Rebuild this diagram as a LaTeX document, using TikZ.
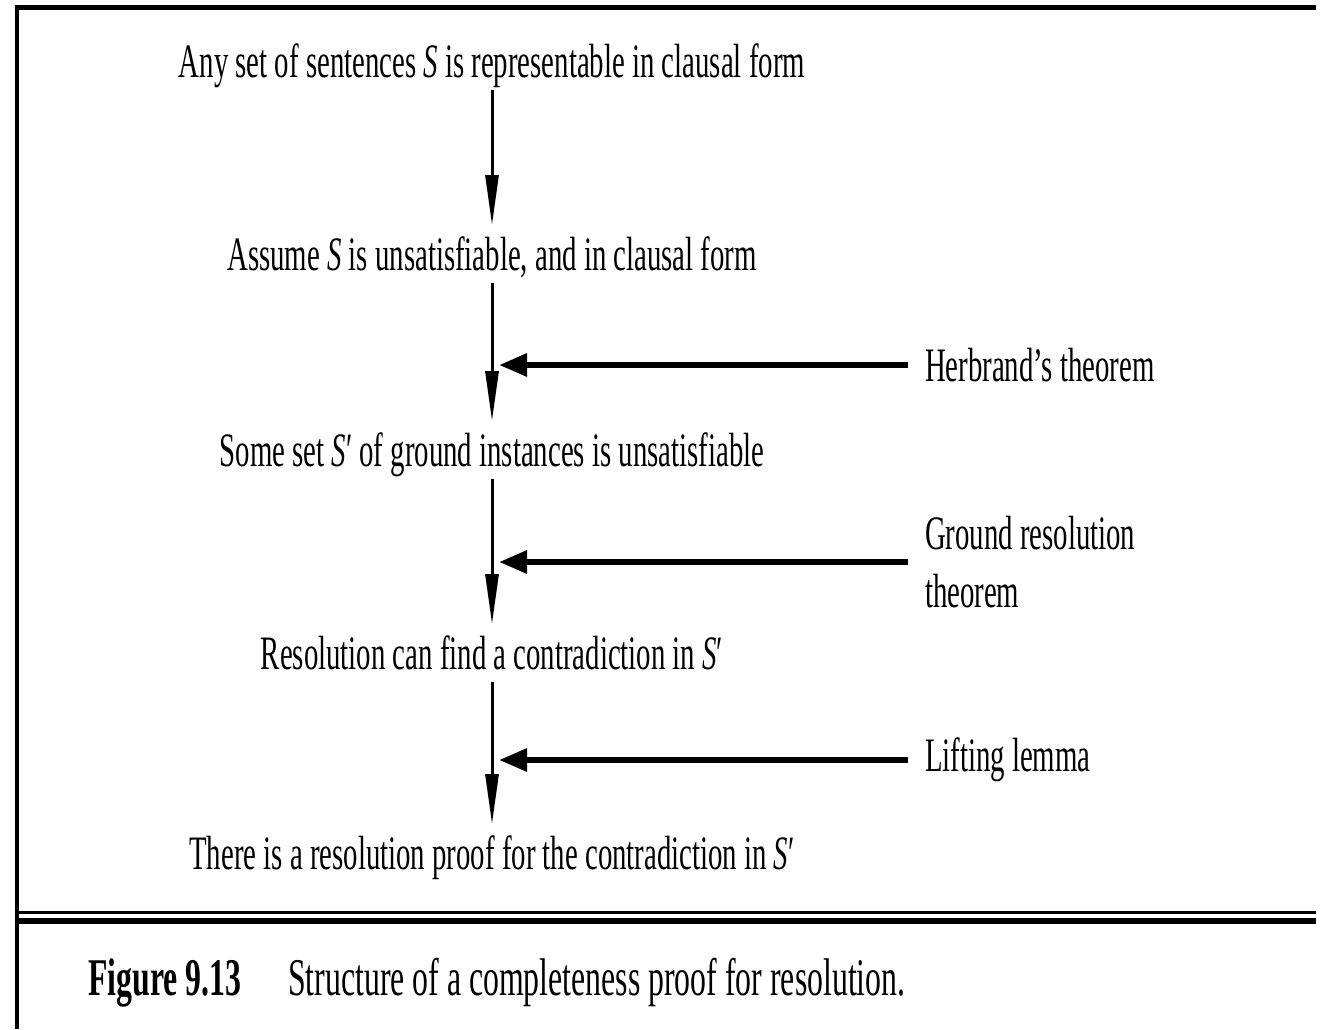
\documentclass[tikz,border=0pt]{standalone}
\usepackage{fontspec}
\setmainfont{Liberation Serif}[FakeStretch=0.6]
\usetikzlibrary{arrows.meta}

\begin{document}
\begin{tikzpicture}[x=1pt,y=-1pt,
	step text/.style={inner sep=0pt,outer sep=0pt,text height=45pt,text depth=13pt,font=\fontsize{48}{58}\selectfont},
	side text/.style={inner sep=0pt,outer sep=0pt,anchor=west,align=left,font=\fontsize{48}{58}\selectfont},
	down/.style={line width=3pt,-{Triangle[length=50pt,width=13pt]}},
	push/.style={line width=6pt,-{Triangle[length=28pt,width=22pt]},shorten <=17pt,shorten >=7pt}]
	\useasboundingbox (0,0) rectangle (1322,1029);
	% frame
	\draw [line width=5pt] (15,7.5) -- (1316,7.5);
	\draw [line width=4pt] (17,5) -- (17,1029);
	\draw [line width=3pt] (17,912) -- (1316,912);
	\draw [line width=6pt] (17,920.5) -- (1316,920.5);
	% proof steps
	\node [step text,anchor=base] at (492,77) (t1) {Any set of sentences \textit{S} is representable in clausal form};
	\node [step text,anchor=base] at (492,270) (t2) {Assume \textit{S} is unsatisfiable, and in clausal form};
	\node [step text,anchor=base] at (492,466) (t3) {Some set \textit{S}′ of ground instances is unsatisfiable};
	\node [step text,anchor=base] at (492,669) (t4) {Resolution can find a contradiction in \textit{S}′};
	\node [step text,anchor=base] at (492,869) (t5) {There is a resolution proof for the contradiction in \textit{S}′};
	\draw [down] (t1) -- (t2);
	\draw [down] (t2) -- (t3);
	\draw [down] (t3) -- (t4);
	\draw [down] (t4) -- (t5);
	% theorems used
	\node [side text] at (925,365) (herb) {Herbrand's theorem};
	\node [side text] at (925,562) (ground) {Ground resolution\\theorem};
	\node [side text] at (925,760) (lift) {Lifting lemma};
	\draw [push] (herb.west) -- (herb.west -| t2.south);
	\draw [push] (ground.west) -- (ground.west -| t3.south);
	\draw [push] (lift.west) -- (lift.west -| t4.south);
	% caption
	\node [inner sep=0pt,anchor=base west,font=\fontsize{53}{60}\selectfont\bfseries] at (88,995) (fig) {Figure 9.13};
	\node [inner sep=0pt,anchor=base west,font=\fontsize{53}{60}\selectfont] at (288,995) (cap) {Structure of a completeness proof for resolution.};
\end{tikzpicture}
\end{document}
